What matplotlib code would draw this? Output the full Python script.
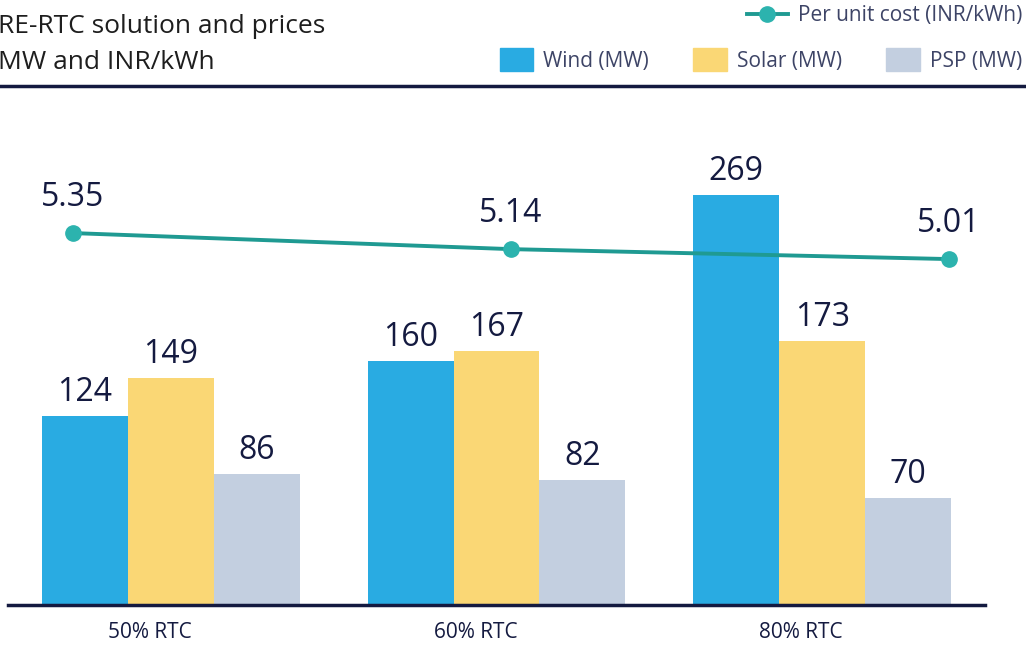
import numpy as np
import matplotlib.pyplot as plt
from matplotlib.lines import Line2D
from matplotlib.patches import Patch

# Data
categories = ["50% RTC", "60% RTC", "80% RTC"]
wind = [124, 160, 269]
solar = [149, 167, 173]
psp = [86, 82, 70]
unit_cost = [5.35, 5.14, 5.01]

navy = "#141a40"
c_wind = "#29abe2"
c_solar = "#fad775"
c_psp = "#c3cfe0"
c_line = "#1f9a92"
c_marker = "#2cb3ae"
c_legend = "#3d4466"

plt.rcParams['font.family'] = ['Open Sans', 'DejaVu Sans']

fig = plt.figure(figsize=(10.26, 6.47), dpi=100)
# axes from x=8..985 px, y=100..605 px (top-down)
rect = [8 / 1026, 42 / 647, 977 / 1026, 505 / 647]
ax = fig.add_axes(rect)

x = np.arange(len(categories))
w = 0.264
series = [(wind, c_wind, -w), (solar, c_solar, 0), (psp, c_psp, w)]
for vals, col, off in series:
    bars = ax.bar(x + off, vals, width=w, color=col, zorder=2)
    for b, v in zip(bars, vals):
        ax.annotate(str(v), (b.get_x() + b.get_width() / 2, v),
                    xytext=(0, 5), textcoords="offset points",
                    ha="center", va="bottom", fontsize=23, color=navy)

ax.set_xlim(-0.5, 2.5)
ax.set_ylim(0, 331.4)
ax.set_yticks([])
for s in ["top", "right", "left"]:
    ax.spines[s].set_visible(False)
ax.spines["bottom"].set_color(navy)
ax.spines["bottom"].set_linewidth(2.5)
ax.set_xticks(x - 0.065)
ax.set_xticklabels(categories, fontsize=15, color=navy)
ax.tick_params(axis="x", length=0, pad=12)

# cost line sits on its own, wider x-scale
ax2 = fig.add_axes(rect, frameon=False)
ax2.plot(x, unit_cost, color=c_line, lw=2.8, marker="o", markersize=11,
         markerfacecolor=c_marker, markeredgecolor=c_marker, zorder=3)
for xi, v in zip(x, unit_cost):
    ax2.annotate(f"{v:.2f}", (xi, v), xytext=(0, 14), textcoords="offset points",
                 ha="center", va="bottom", fontsize=23, color=navy)
ax2.set_xlim(-0.148, 2.082)
ax2.set_ylim(0.487, 7.09)
ax2.set_xticks([])
ax2.set_yticks([])

# header
fig.text(-0.002, 1 - 33 / 647, "RE-RTC solution and prices", ha="left", va="baseline",
         fontsize=19, color="#1e1e1e")
fig.text(-0.002, 1 - 69 / 647, "MW and INR/kWh", ha="left", va="baseline",
         fontsize=19, color="#1e1e1e")
fig.add_artist(Line2D([0, 1], [1 - 86 / 647] * 2, color=navy, lw=2.5))

h_line = [Line2D([], [], color=c_line, lw=2.8, marker="o", markersize=11,
                 markerfacecolor=c_marker, markeredgecolor=c_marker)]
fig.legend(h_line, ["Per unit cost (INR/kWh)"], loc="center right",
           bbox_to_anchor=(1022 / 1026, 1 - 16 / 647), frameon=False, fontsize=15,
           labelcolor=c_legend, handlelength=2.0, handletextpad=0.45, borderpad=0,
           borderaxespad=0)
h_bars = [Patch(color=c) for c in (c_wind, c_solar, c_psp)]
fig.legend(h_bars, ["Wind (MW)", "Solar (MW)", "PSP (MW)"], loc="center right",
           bbox_to_anchor=(1022 / 1026, 1 - 60 / 647), ncol=3, frameon=False,
           fontsize=15, labelcolor=c_legend, handlelength=1.63, handleheight=1.3,
           handletextpad=0.48, columnspacing=2.1, borderpad=0, borderaxespad=0)

fig.savefig("out.png", dpi=100)
